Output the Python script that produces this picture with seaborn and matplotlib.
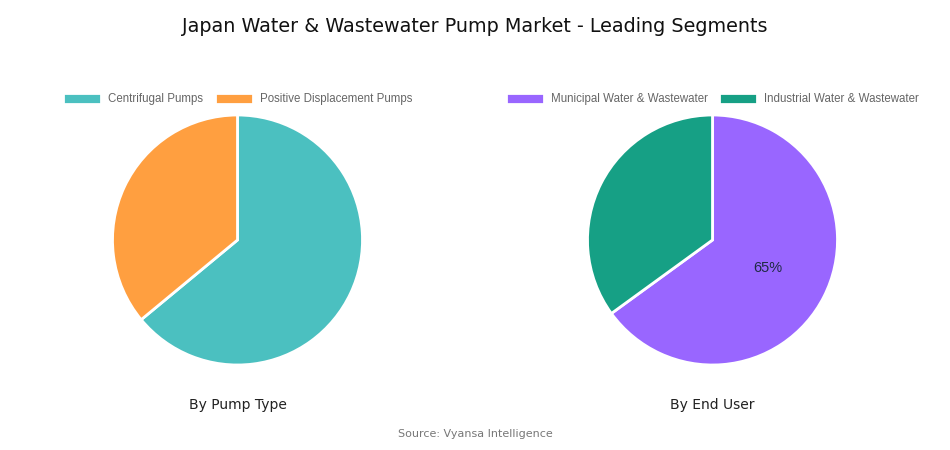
import matplotlib
matplotlib.use("Agg")
import matplotlib.pyplot as plt
import seaborn as sns

# data
pump_types = ["Centrifugal Pumps", "Positive Displacement Pumps"]
pump_share = [64, 36]
end_users = ["Municipal Water & Wastewater", "Industrial Water & Wastewater"]
end_user_share = [65, 35]

pump_colors = ["#4BC0C0", "#FF9F40"]
user_colors = ["#9966FF", "#16A085"]

sns.set_theme(style="white")
plt.rcParams["font.family"] = ["Liberation Sans", "DejaVu Sans"]

fig = plt.figure(figsize=(9.5, 4.5), dpi=100)
W, H = 950, 450


def pie_axes(cx, cy, r=125):
    return fig.add_axes([(cx - r) / W, 1 - (cy + r) / H, 2 * r / W, 2 * r / H])


def draw(ax, values, labels, colors, subtitle, show_pct):
    wedges, *rest = ax.pie(
        values, colors=colors, startangle=90, counterclock=False,
        wedgeprops=dict(edgecolor="white", linewidth=2),
        autopct=(lambda p: f"{p:.0f}%" if p > 50 else "") if show_pct else None,
        pctdistance=0.5,
        textprops=dict(color="#1f2a44", fontsize=10.5),
    )
    ax.set_xlim(-1, 1)
    ax.set_ylim(-1, 1)
    ax.set_aspect("equal")
    ax.legend(wedges, labels, loc="center", bbox_to_anchor=(0.5, 1.064),
              ncol=2, frameon=False, fontsize=8.3, labelcolor="#666666",
              handlelength=3.3, handleheight=1.2, handletextpad=0.6,
              columnspacing=1.0)
    ax.text(0.5, -0.16, subtitle, transform=ax.transAxes, ha="center",
            va="center", fontsize=10, color="#222222", family="DejaVu Sans")


ax1 = pie_axes(237.5, 240)
draw(ax1, pump_share, pump_types, pump_colors, "By Pump Type", False)
ax2 = pie_axes(712.5, 240)
draw(ax2, end_user_share, end_users, user_colors, "By End User", True)

fig.text(0.5, 1 - 27 / H, "Japan Water & Wastewater Pump Market - Leading Segments",
         ha="center", va="center", fontsize=13.8, color="#111111", family="DejaVu Sans")
fig.text(0.5, 1 - 434 / H, "Source: Vyansa Intelligence", ha="center", va="center",
         fontsize=8, color="#777777", family="DejaVu Sans")

fig.savefig("out.png", dpi=100, facecolor="white")
